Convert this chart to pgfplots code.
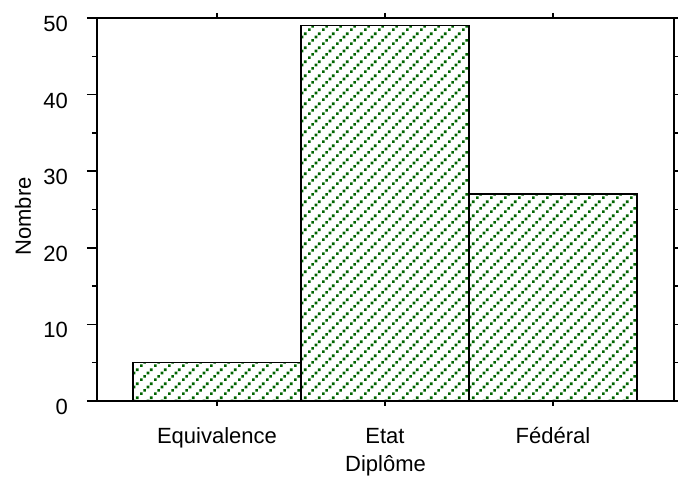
\documentclass[border=0pt]{standalone}
\usepackage{fontspec}
\setmainfont{Liberation Sans}
\usepackage{pgfplots}
\pgfplotsset{compat=1.18}
\usetikzlibrary{patterns.meta,calc}
\definecolor{dgreen}{RGB}{0,100,0}
\pgfdeclarepattern{name=greendots, type=uncolored,
  bottom left={\pgfpoint{0bp}{0bp}}, top right={\pgfpoint{14bp}{14bp}},
  tile size={\pgfpoint{14bp}{14bp}},
  code={
    \pgfpathrectangle{\pgfpoint{0bp}{0bp}}{\pgfpoint{2.9bp}{2.9bp}}
    \pgfpathrectangle{\pgfpoint{3.5bp}{3.5bp}}{\pgfpoint{2.9bp}{2.9bp}}
    \pgfpathrectangle{\pgfpoint{7bp}{7bp}}{\pgfpoint{2.9bp}{2.9bp}}
    \pgfpathrectangle{\pgfpoint{10.5bp}{10.5bp}}{\pgfpoint{2.9bp}{2.9bp}}
    \pgfusepath{fill}}}
\newcommand\lbl{\fontsize{22bp}{26bp}\selectfont}
\begin{document}
\begin{tikzpicture}
\pgfplotsset{
  common/.style={
    width=577bp, height=383bp, scale only axis,
    xmin=-0.714, xmax=2.72, ymin=0, ymax=50,
    axis line style={line width=1.5bp},
    tick style={line width=1.5bp, black},
    tick align=outside,
    /pgf/number format/assume math mode=true,
    tick label style={font=\lbl},
    label style={font=\lbl},
  }
}
\begin{axis}[common, name=ax,
  major tick length=10bp, minor tick length=5bp,
  xtick={0,1,2}, xticklabels={Equivalence,Etat,Fédéral},
  minor xtick={0,1,2},
  every major x tick/.append style={draw=none},
  xtick pos=both,
  ytick={0,10,...,50}, minor ytick={5,15,...,45},
  ytick pos=left,
  xticklabel style={anchor=base, inner sep=0pt, yshift=-33bp},
  yticklabel style={anchor=east, inner sep=0pt, xshift=-19bp, yshift=-6bp},
  xlabel={Diplôme}, ylabel={Nombre},
  xlabel style={at={(axis description cs:0.5,0)}, anchor=center, yshift=-65bp},
  ylabel style={at={(axis description cs:0,0.5)}, anchor=center, xshift=-7bp, yshift=74bp},
]
\addplot[ybar, bar width=1, bar shift=0pt, draw=black, line width=1.5bp,
  pattern=greendots, pattern color=dgreen] coordinates {(0,5) (1,49) (2,27)};
\end{axis}
\begin{axis}[common, hide x axis,
  major tick length=4bp,
  ytick={0,5,...,50}, yticklabels={}, ytick pos=right,
]
\addplot[draw=none] coordinates {(0,0)};
\end{axis}
\pgfresetboundingbox
\useasboundingbox ($(ax.south west)+(-97bp,-78bp)$) rectangle ($(ax.north east)+(4bp,18bp)$);
\end{tikzpicture}
\end{document}
